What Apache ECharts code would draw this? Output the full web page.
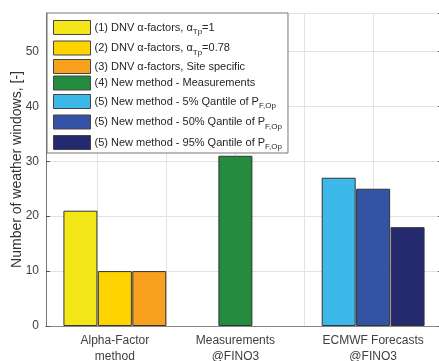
<!DOCTYPE html>
<html>
<head>
<meta charset="utf-8">
<script src="https://cdn.jsdelivr.net/npm/echarts@6/dist/echarts.min.js"></script>
<style>
  body { margin: 0; background: #fff; }
  #main { width: 439px; height: 361px; }
</style>
</head>
<body>
<div id="main"></div>
<script type="text/javascript">
// groups on the x axis (label position in x units)
var categories = ['Alpha-Factor\nmethod', 'Measurements\n@FINO3', 'ECMWF Forecasts\n@FINO3'];
var categoryPos = [1.125, 2, 3];
var gridX = [1, 1.5, 2, 2.5, 3];

var seriesNames = ['dnv1', 'dnv078', 'dnvsite', 'meas', 'q5', 'q50', 'q95'];
var legendLabels = [
  '(1) DNV α-factors, α{s|Tp}=1',
  '(2) DNV α-factors, α{s|Tp}=0.78',
  '(3) DNV α-factors, Site specific',
  '(4) New method - Measurements',
  '(5) New method - 5% Qantile of P{s|F,Op}',
  '(5) New method - 50% Qantile of P{s|F,Op}',
  '(5) New method - 95% Qantile of P{s|F,Op}'
];
var barPos = [0.875, 1.125, 1.375, 2, 2.75, 3, 3.25];
var barValues = [21, 10, 10, 31, 27, 25, 18];
var colors = ['#F3E71A', '#FDD400', '#F7A11F', '#248B3F', '#3DB9E9', '#3453A5', '#252A6F'];

var yTicks = [0, 10, 20, 30, 40, 50];

var myChart = echarts.init(document.getElementById('main'));

var series = seriesNames.map(function (name, i) {
  var s = {
    name: name,
    type: 'bar',
    xAxisIndex: 0,
    barWidth: 34,
    barGap: '-100%',
    itemStyle: { color: colors[i], borderColor: '#333', borderWidth: 1 },
    data: [[barPos[i], barValues[i]]]
  };
  if (i === 0) {
    s.markLine = {
      silent: true,
      symbol: 'none',
      z: 1,
      label: { show: false },
      lineStyle: { color: '#e3e3e3', width: 1, type: 'solid' },
      data: gridX.map(function (v) { return { xAxis: v }; })
    };
  }
  return s;
});

function near(a, b) { return Math.abs(a - b) < 1e-6; }

myChart.setOption({
  animation: false,
  textStyle: { fontFamily: 'Liberation Sans, Arial, sans-serif' },
  grid: { left: 46, right: -3, top: 13, bottom: 35, outerBoundsMode: 'none' },
  legend: {
    data: seriesNames,
    orient: 'vertical',
    left: 47,
    top: 13,
    padding: [5, 6, 1, 6],
    itemWidth: 37,
    itemHeight: 14,
    itemGap: 1.5,
    icon: 'rect',
    selectedMode: false,
    backgroundColor: '#fff',
    borderColor: '#777',
    borderWidth: 1,
    itemStyle: { borderWidth: 1, borderColor: '#444' },
    formatter: function (name) {
      return legendLabels[seriesNames.indexOf(name)];
    },
    textStyle: {
      fontSize: 11,
      lineHeight: 12,
      color: '#262626',
      padding: [0, 0, 0, -1],
      rich: {
        s: { fontSize: 8, lineHeight: 8, padding: [10, 0, 1, 0], color: '#262626' }
      }
    }
  },
  xAxis: [{
    type: 'value',
    min: 0.625,
    max: 3.5,
    interval: 0.125,
    axisLine: { show: true, lineStyle: { color: '#555' } },
    axisTick: { show: false },
    splitLine: { show: false },
    axisLabel: {
      color: '#404040',
      fontSize: 12,
      lineHeight: 16,
      margin: 7,
      showMinLabel: true,
      showMaxLabel: false,
      formatter: function (v) {
        for (var i = 0; i < categoryPos.length; i++) {
          if (near(v, categoryPos[i])) return categories[i];
        }
        return '';
      }
    }
  }, {
    type: 'value',
    position: 'top',
    min: 0.625,
    max: 3.5,
    axisLine: { show: true, lineStyle: { color: '#888' } },
    axisTick: { show: false },
    axisLabel: { show: false },
    splitLine: { show: false }
  }],
  yAxis: [{
    type: 'value',
    min: 0,
    max: 57,
    interval: 10,
    name: 'Number of weather windows, [-]',
    nameLocation: 'middle',
    nameGap: 22,
    nameMoveOverlap: false,
    nameTextStyle: { fontSize: 14, color: '#333' },
    axisLine: { show: true, lineStyle: { color: '#777' } },
    axisTick: { show: true, inside: true, length: 4, lineStyle: { color: '#555' } },
    axisLabel: {
      color: '#404040',
      fontSize: 12,
      margin: 7,
      formatter: function (v) { return yTicks.indexOf(v) >= 0 ? String(v) : ''; }
    },
    splitLine: { show: true, lineStyle: { color: '#e3e3e3' } }
  }, {
    type: 'value',
    position: 'right',
    min: 0,
    max: 57,
    interval: 10,
    axisLine: { show: true, lineStyle: { color: '#777' } },
    axisTick: { show: true, inside: true, length: 4, lineStyle: { color: '#555' } },
    axisLabel: { show: false },
    splitLine: { show: false }
  }],
  series: series
});
</script>
</body>
</html>
